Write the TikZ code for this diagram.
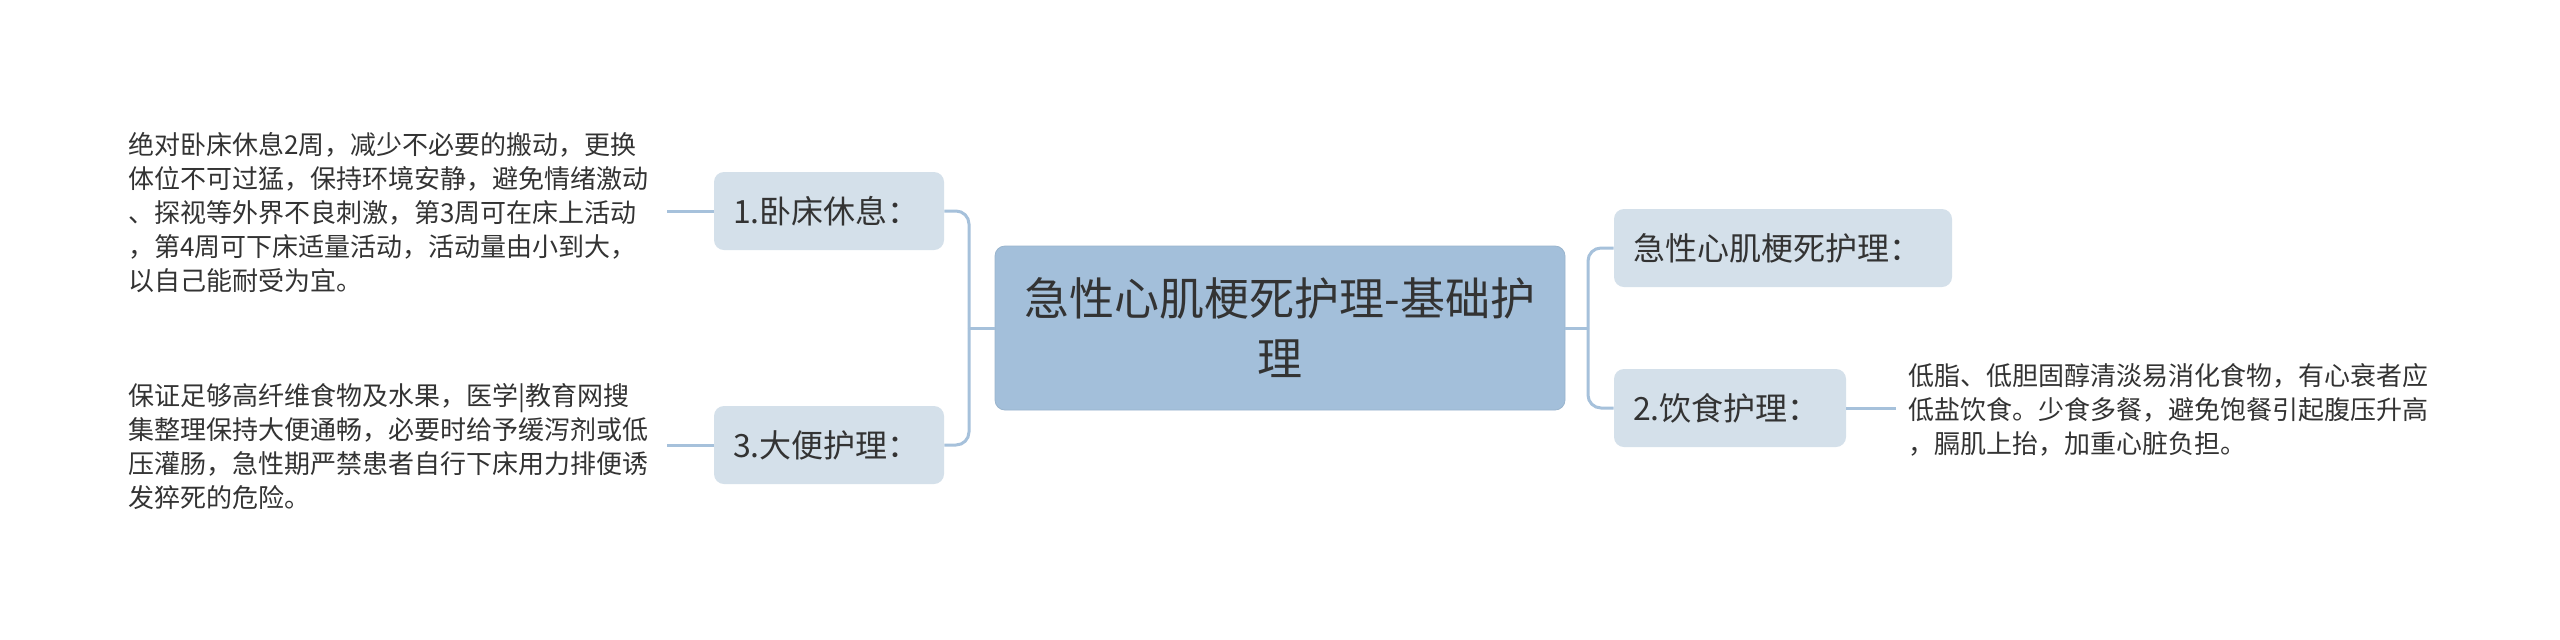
\documentclass[tikz,border=0pt]{standalone}
\usepackage{fontspec}
\setmainfont{Noto Sans CJK SC}
\definecolor{cfill}{HTML}{A3BFDA}
\definecolor{bfill}{HTML}{D4E0EA}
\definecolor{linec}{HTML}{A6C1DB}
\definecolor{txt}{HTML}{333333}
\tikzset{
  conn/.style={draw=linec, line width=1.5pt, rounded corners=6.5pt},
  rootbox/.style={fill=cfill, draw=cfill!90!black!60!cfill, line width=0.4pt, rounded corners=5pt,
    minimum width=285pt, minimum height=82pt, text width=270pt, align=center, inner sep=0pt,
    text=txt, font=\fontsize{22.5pt}{30pt}\selectfont},
  subbox/.style={fill=bfill, draw=none, rounded corners=5pt, minimum height=39pt,
    inner xsep=9.5pt, inner ysep=0pt, align=left, text=txt, font=\fontsize{16pt}{19pt}\selectfont},
  leaf/.style={inner xsep=6pt, inner ysep=0pt, align=left, text=txt,
    font=\fontsize{13pt}{17pt}\selectfont},
}
\begin{document}
\begin{tikzpicture}[x=0.5pt,y=-0.5pt]
\useasboundingbox (0,0) rectangle (2560,639);
\fill[white] (0,0) rectangle (2560,639);

\node[rootbox] (root) at (1280,328) {急性心肌梗死护理-基础护\\理};

\node[subbox, text width=96pt] (b1) at (829,211) {1.卧床休息：};
\node[subbox, text width=96pt] (b3) at (829,445) {3.大便护理：};
\node[subbox, text width=150pt] (ba) at (1783,248) {急性心肌梗死护理：};
\node[subbox, text width=97pt] (b2) at (1730,408) {2.饮食护理：};

\node[leaf, text width=263pt, anchor=west] (l1) at (116,213)
  {绝对卧床休息2周，减少不必要的搬动，更换\\体位不可过猛，保持环境安静，避免情绪激动\\、探视等外界不良刺激，第3周可在床上活动\\，第4周可下床适量活动，活动量由小到大，\\以自己能耐受为宜。};
\node[leaf, text width=263pt, anchor=west] (l3) at (116,447)
  {保证足够高纤维食物及水果，医学|教育网搜\\集整理保持大便通畅，必要时给予缓泻剂或低\\压灌肠，急性期严禁患者自行下床用力排便诱\\发猝死的危险。};
\node[leaf, text width=265pt, anchor=west] (l2) at (1896,410)
  {低脂、低胆固醇清淡易消化食物，有心衰者应\\低盐饮食。少食多餐，避免饱餐引起腹压升高\\，膈肌上抬，加重心脏负担。};

\coordinate (jl) at (969,328);
\coordinate (jr) at (1588,328);

\draw[conn] (root.west) -- (jl);
\draw[conn] (b1.east) -| (jl);
\draw[conn] (b3.east) -| (jl);
\draw[conn] (root.east) -- (jr);
\draw[conn] (ba.west) -| (jr);
\draw[conn] (b2.west) -| (jr);

\draw[conn] (b1.west) -- (b1.west -| l1.east);
\draw[conn] (b3.west) -- (b3.west -| l3.east);
\draw[conn] (b2.east) -- (b2.east -| l2.west);
\end{tikzpicture}
\end{document}
